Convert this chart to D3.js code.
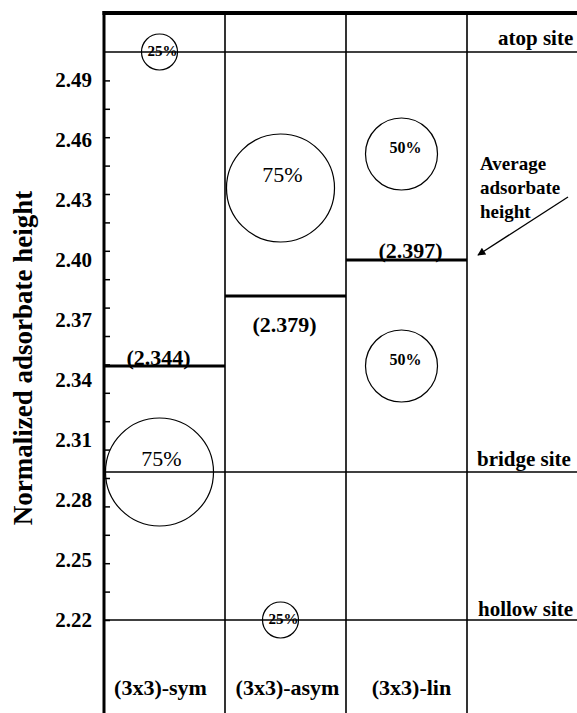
<!DOCTYPE html>
<html>
<head>
<meta charset="utf-8">
<script src="https://cdn.jsdelivr.net/npm/d3@7"></script>
<style>
  body { margin: 0; background: #fff; }
  svg { display: block; }
  text { font-family: "Liberation Serif", "Times New Roman", serif; fill: #000; }
</style>
</head>
<body>
<div id="container"></div>
<script>
/* DATA */
const categories = ["(3x3)-sym", "(3x3)-asym", "(3x3)-lin"];
const averageHeights = [2.344, 2.379, 2.397];

const sites = ["atop site", "bridge site", "hollow site"];
const siteHeights = [2.501, 2.291, 2.217];

// occupied positions per structure (circle size = fraction of adsorbates)
const occCategory = ["(3x3)-sym", "(3x3)-sym", "(3x3)-asym", "(3x3)-asym", "(3x3)-lin", "(3x3)-lin"];
const occHeight = [2.501, 2.291, 2.433, 2.217, 2.450, 2.344];
const occFraction = [0.25, 0.75, 0.75, 0.25, 0.50, 0.50];

const yTickLabels = ["2.49", "2.46", "2.43", "2.40", "2.37", "2.34", "2.31", "2.28", "2.25", "2.22"];
const yMinorStart = 2.217, yMinorStep = 0.0142, yMinorCount = 20;

/* CONSTANTS AND GLOBALS */
const width = 577, height = 713;
const plot = { left: 104, right: 467, top: 13 };

const svg = d3.select("#container")
  .append("svg")
  .attr("width", width)
  .attr("height", height);

// SCALES
const x = d3.scaleBand().domain(categories).range([plot.left, plot.right]);
const y = d3.scaleLinear().domain([2.217, 2.501]).range([620, 52]);
const r = d3.scaleLinear().domain([0, 1]).range([0, 72]);

// SITE LINES
svg.selectAll("line.site")
  .data(sites)
  .join("line")
  .attr("class", "site")
  .attr("x1", plot.left).attr("x2", width)
  .attr("y1", (d, i) => y(siteHeights[i])).attr("y2", (d, i) => y(siteHeights[i]))
  .attr("stroke", "#000").attr("stroke-width", 1.3);

const siteX = [498, 477, 478], siteDy = [7, 6, 4];
svg.selectAll("text.site")
  .data(sites)
  .join("text")
  .attr("class", "site")
  .attr("x", (d, i) => siteX[i])
  .attr("y", (d, i) => y(siteHeights[i]) - siteDy[i])
  .attr("font-size", 21).attr("font-weight", "bold")
  .text(d => d);

// COLUMN DIVIDERS
svg.selectAll("line.col")
  .data(categories.slice(1).map(c => x(c)).concat([plot.right]))
  .join("line")
  .attr("class", "col")
  .attr("x1", d => d).attr("x2", d => d)
  .attr("y1", plot.top).attr("y2", height)
  .attr("stroke", "#000").attr("stroke-width", 1.6);

// FRAME
svg.append("line")
  .attr("x1", plot.left - 1.5).attr("x2", width)
  .attr("y1", plot.top).attr("y2", plot.top)
  .attr("stroke", "#000").attr("stroke-width", 4);

// Y AXIS (ticks inside)
const minorTicks = d3.range(yMinorCount).map(i => yMinorStart + i * yMinorStep);
const yAxis = d3.axisRight(y).tickValues(minorTicks).tickSize(6).tickFormat("");
svg.append("g")
  .attr("transform", `translate(${plot.left},0)`)
  .call(yAxis)
  .call(g => g.select(".domain").remove())
  .call(g => g.selectAll(".tick line").attr("stroke", "#000").attr("stroke-width", 1.5));

svg.append("line")
  .attr("x1", plot.left).attr("x2", plot.left)
  .attr("y1", plot.top - 2).attr("y2", height)
  .attr("stroke", "#000").attr("stroke-width", 3);

svg.selectAll("text.ytick")
  .data(yTickLabels)
  .join("text")
  .attr("class", "ytick")
  .attr("x", 92)
  .attr("y", d => y(+d) + 13)
  .attr("text-anchor", "end")
  .attr("font-size", 21).attr("font-weight", "bold")
  .text(d => d);

svg.append("text")
  .attr("transform", "translate(32,358) rotate(-90)")
  .attr("text-anchor", "middle")
  .attr("font-size", 27).attr("font-weight", "bold")
  .text("Normalized adsorbate height");

// AVERAGE HEIGHT LINES
svg.selectAll("line.avg")
  .data(categories)
  .join("line")
  .attr("class", "avg")
  .attr("x1", d => x(d)).attr("x2", d => x(d) + x.bandwidth())
  .attr("y1", (d, i) => y(averageHeights[i])).attr("y2", (d, i) => y(averageHeights[i]))
  .attr("stroke", "#000").attr("stroke-width", 2.8);

const avgDx = [-6, -1, 4], avgDy = [-1, 36, -2];
svg.selectAll("text.avg")
  .data(categories)
  .join("text")
  .attr("class", "avg")
  .attr("x", (d, i) => x(d) + x.bandwidth() / 2 + avgDx[i])
  .attr("y", (d, i) => y(averageHeights[i]) + avgDy[i])
  .attr("text-anchor", "middle")
  .attr("font-size", 22).attr("font-weight", "bold")
  .text((d, i) => `(${averageHeights[i].toFixed(3)})`);

// OCCUPANCY CIRCLES
const occ = occCategory.map((c, i) => ({ c, h: occHeight[i], f: occFraction[i] }));
const labelStyle = {
  0.25: { size: 15, weight: "bold", dx: 3, dy: 4 },
  0.5: { size: 16, weight: "bold", dx: 4, dy: -1 },
  0.75: { size: 22, weight: "normal", dx: 2, dy: -6 }
};
const cx = d => x(d.c) + x.bandwidth() / 2 - 5;

svg.selectAll("circle.occ")
  .data(occ)
  .join("circle")
  .attr("class", "occ")
  .attr("cx", cx)
  .attr("cy", d => y(d.h))
  .attr("r", d => r(d.f))
  .attr("fill", "none")
  .attr("stroke", "#000").attr("stroke-width", 1.2);

svg.selectAll("text.occ")
  .data(occ)
  .join("text")
  .attr("class", "occ")
  .attr("x", d => cx(d) + labelStyle[d.f].dx)
  .attr("y", d => y(d.h) + labelStyle[d.f].dy)
  .attr("text-anchor", "middle")
  .attr("font-size", d => labelStyle[d.f].size)
  .attr("font-weight", d => labelStyle[d.f].weight)
  .text(d => `${Math.round(d.f * 100)}%`);

// CATEGORY LABELS
const catDx = [-4, 2, 5];
svg.selectAll("text.cat")
  .data(categories)
  .join("text")
  .attr("class", "cat")
  .attr("x", (d, i) => x(d) + x.bandwidth() / 2 + catDx[i])
  .attr("y", 695)
  .attr("text-anchor", "middle")
  .attr("font-size", 22).attr("font-weight", "bold")
  .text(d => d);

// ANNOTATION
svg.append("defs").append("marker")
  .attr("id", "arrow")
  .attr("viewBox", "0 0 10 10")
  .attr("refX", 9).attr("refY", 5)
  .attr("markerWidth", 10).attr("markerHeight", 8)
  .attr("markerUnits", "userSpaceOnUse")
  .attr("orient", "auto")
  .append("path")
  .attr("d", "M0,0 L10,5 L0,10 Z")
  .attr("fill", "#000");

svg.append("text")
  .attr("x", 480).attr("y", 170)
  .attr("font-size", 19).attr("font-weight", "bold")
  .selectAll("tspan")
  .data(["Average", "adsorbate", "height"])
  .join("tspan")
  .attr("x", 480)
  .attr("dy", (d, i) => i === 0 ? 0 : 24)
  .text(d => d);

svg.append("line")
  .attr("x1", 568).attr("y1", 197)
  .attr("x2", 478).attr("y2", 255)
  .attr("stroke", "#000").attr("stroke-width", 1.3)
  .attr("marker-end", "url(#arrow)");
</script>
</body>
</html>
